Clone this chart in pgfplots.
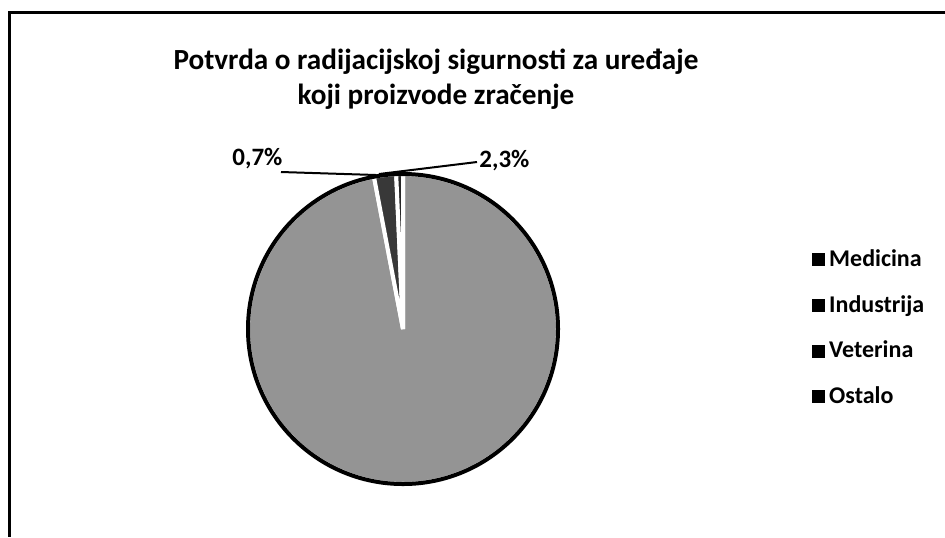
\documentclass[border=0pt]{standalone}
\usepackage{fontspec}
\setmainfont{Carlito}
\usepackage{pgfplots}
\pgfplotsset{compat=1.18}
\usepackage{pgfplotstable}

\definecolor{slice0}{gray}{0.58}
\definecolor{slice1}{gray}{0.22}
\definecolor{slice2}{gray}{0.15}
\definecolor{slice3}{gray}{0.45}

% share in percent, clockwise from 12 o'clock
\pgfplotstableread{
label value
Medicina 97.0
Industrija 2.3
Veterina 0.7
Ostalo 0.0
}\piedata

\begin{document}
\begin{tikzpicture}
\begin{axis}[
    scale only axis, width=472.5pt, height=268.5pt,
    xmin=0, xmax=945, ymin=0, ymax=537, y dir=reverse,
    hide axis, clip=false,
    legend image code/.code={\fill[black] (0pt,-3pt) rectangle (6pt,3pt);},
    legend style={at={(axis cs:806,241)}, anchor=north west, draw=none, fill=none,
        font=\bfseries\fontsize{12}{14}\selectfont, row sep=9pt},
    legend cell align=left,
]
\def\cum{0}
\pgfplotsforeachungrouped \i in {0,...,3}{%
  \pgfplotstablegetelem{\i}{value}\of\piedata
  \let\v\pgfplotsretval
  \pgfmathsetmacro\a{\cum*3.6}
  \pgfmathsetmacro\b{(\cum+\v)*3.6}
  \pgfmathsetmacro\cum{\cum+\v}
  \ifdim\v pt>0pt
    \edef\temp{\noexpand\addplot[draw=white, line width=2pt, fill=slice\i,
      domain=\a:\b, samples=90, forget plot]
      ({403+155*sin(x)}, {329-155*cos(x)}) -- (axis cs:403,329) -- cycle;}
    \temp
  \fi
}
\draw[black, line width=2pt] (axis cs:403,329) circle[radius=77.5pt];

\addlegendimage{black}\addlegendentry{Medicina}
\addlegendimage{black}\addlegendentry{Industrija}
\addlegendimage{black}\addlegendentry{Veterina}
\addlegendimage{black}\addlegendentry{Ostalo}

% data labels with leader lines
\draw[black, line width=1pt] (axis cs:281,172) -- (axis cs:376,175);
\draw[black, line width=1pt] (axis cs:379,174) -- (axis cs:477,162);
\node[font=\bfseries\fontsize{12.5}{14}\selectfont, anchor=base west, inner sep=0pt]
  at (axis cs:232,165) {0,7\%};
\node[font=\bfseries\fontsize{12.5}{14}\selectfont, anchor=base west, inner sep=0pt]
  at (axis cs:479,167) {2,3\%};

\node[font=\bfseries\fontsize{14.6}{17}\selectfont, anchor=base]
  at (axis cs:436,69) {Potvrda o radijacijskoj sigurnosti za uređaje};
\node[font=\bfseries\fontsize{14.6}{17}\selectfont, anchor=base]
  at (axis cs:436,104) {koji proizvode zračenje};

% chart frame
\draw[black, line width=1.5pt] (axis cs:945,12) -- (axis cs:9,12) -- (axis cs:9,537);
\end{axis}
\pgfresetboundingbox
\useasboundingbox (current axis.south west) rectangle (current axis.north east);
\end{tikzpicture}
\end{document}
